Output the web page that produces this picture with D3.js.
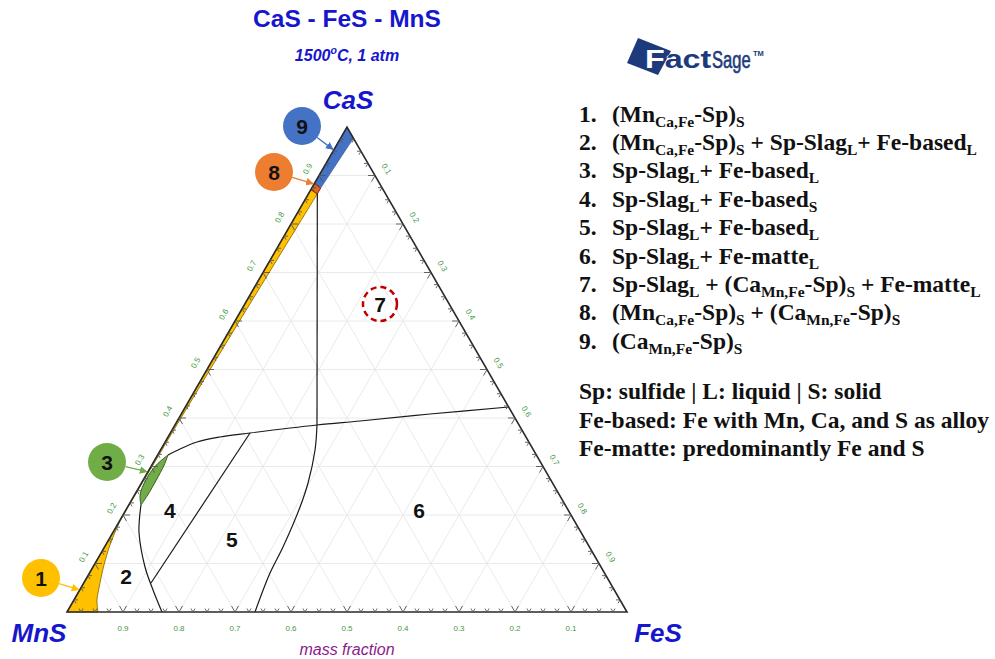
<!DOCTYPE html>
<html>
<head>
<meta charset="utf-8">
<script src="https://cdn.jsdelivr.net/npm/d3@7"></script>
<style>
  body { margin: 0; background: #fff; }
  svg { display: block; }
</style>
</head>
<body>
<svg id="chart" width="995" height="659"></svg>
<script>
// Compositions are given as [CaS, FeS] mass fractions; MnS = 1 - CaS - FeS.

const gridValues = [0.1, 0.2, 0.3, 0.4, 0.5, 0.6, 0.7, 0.8, 0.9];
const gridLabels = ["0.1", "0.2", "0.3", "0.4", "0.5", "0.6", "0.7", "0.8", "0.9"];
const tickStep = 0.025;

// Region 1: MnS-based solid, with its thin band along the MnS–CaS side
const mnsSolidInner = [
  [0.862, 0.016], [0.8, 0.014], [0.7, 0.011], [0.6, 0.008], [0.5, 0.0055],
  [0.4, 0.0035], [0.3, 0.002], [0.19, 0.001], [0.1691, 0.003], [0.1381, 0.0077],
  [0.0969, 0.0176], [0.0495, 0.0324], [0.0247, 0.0412], [0, 0.0554]
];
const mnsSolidEdge = [[0, 0], [0.871, 0]];

// Region 8: two solid sulfides
const twoSolidsArea = [[0.884, 0], [0.874, 0.016], [0.862, 0.016], [0.871, 0]];

// Region 9: CaS-based solid
const casSolidArea = [[1, 0], [0.977, 0.023], [0.874, 0.016], [0.884, 0]];

// Region 3: slag + Fe-based liquid (lens)
const lensOuter = [[0.2206, 0.0218], [0.241, 0.010], [0.272, 0.0045], [0.303, 0.008], [0.3237, 0.0185]];
const lensInner = [[0.3237, 0.0185], [0.303, 0.022], [0.272, 0.0235], [0.241, 0.0235], [0.2206, 0.0218]];

// Phase boundaries
const boundaryLeft = [[0, 0.1696], [0.0454, 0.1309], [0.0928, 0.0929], [0.1629, 0.0472], [0.1938, 0.0326], [0.2206, 0.0218]];
const boundaryTop = [[0.3237, 0.0185], [0.334, 0.0312], [0.3505, 0.0569], [0.3608, 0.0928], [0.3691, 0.1423],
                     [0.3856, 0.2536], [0.3938, 0.3263], [0.4082, 0.4441], [0.4227, 0.5773]];
const boundaryCaS = [[0.3856, 0.2536], [0.862, 0.016]];
const boundary45 = [[0.3691, 0.1423], [0.0598, 0.1201]];
const boundary56 = [[0.3856, 0.2536], [0.334, 0.2759], [0.266, 0.2974], [0.2165, 0.3079],
                    [0.134, 0.3187], [0.0804, 0.3223], [0, 0.3357]];

// Region numbers placed at compositions inside each field
const fieldNames = ["2", "4", "5", "6", "7"];
const fieldPoints = [[0.0742, 0.0683], [0.2103, 0.0787], [0.1505, 0.2193], [0.2103, 0.5234], [0.635, 0.2414]];

// Callout targets (on the MnS–CaS side, next to each narrow field)
const calloutNames = ["1", "3", "8", "9"];
const calloutTargets = [[0.0454, 0], [0.2887, 0], [0.8825, 0], [0.9526, 0]];

const legendNumbers = ["1.", "2.", "3.", "4.", "5.", "6.", "7.", "8.", "9."];
const legendEntries = [
  [["(Mn"], ["Ca,Fe", 1], ["-Sp)"], ["S", 1]],
  [["(Mn"], ["Ca,Fe", 1], ["-Sp)"], ["S", 1], [" + Sp-Slag"], ["L", 1], ["+ Fe-based"], ["L", 1]],
  [["Sp-Slag"], ["L", 1], ["+ Fe-based"], ["L", 1]],
  [["Sp-Slag"], ["L", 1], ["+ Fe-based"], ["S", 1]],
  [["Sp-Slag"], ["L", 1], ["+ Fe-based"], ["L", 1]],
  [["Sp-Slag"], ["L", 1], ["+ Fe-matte"], ["L", 1]],
  [["Sp-Slag"], ["L", 1], [" + (Ca"], ["Mn,Fe", 1], ["-Sp)"], ["S", 1], [" + Fe-matte"], ["L", 1]],
  [["(Mn"], ["Ca,Fe", 1], ["-Sp)"], ["S", 1], [" + (Ca"], ["Mn,Fe", 1], ["-Sp)"], ["S", 1]],
  [["(Ca"], ["Mn,Fe", 1], ["-Sp)"], ["S", 1]]
];
const legendNotes = [
  "Sp: sulfide | L: liquid | S: solid",
  "Fe-based: Fe with Mn, Ca, and S as alloy",
  "Fe-matte: predominantly Fe and S"
];

// ---------------------------------------------------------------------------
const svg = d3.select("#chart");
const BLUE = "#1616cc";
const SANS = "Liberation Sans, Arial, sans-serif";
const SERIF = "Liberation Serif, Times New Roman, serif";

// ternary projection built from two linear scales
const sideScale = d3.scaleLinear().domain([0, 1]).range([67, 627]);
const heightScale = d3.scaleLinear().domain([0, 1]).range([612, 127]);
const proj = ([c, f]) => [sideScale(f + c / 2), heightScale(c)];

const lineLin = d3.line().x(d => proj(d)[0]).y(d => proj(d)[1]);
const lineCurve = d3.line().x(d => proj(d)[0]).y(d => proj(d)[1]).curve(d3.curveCatmullRom.alpha(0.5));

// ---- grid ----
const grid = svg.append("g").attr("stroke", "#e8e8e8").attr("stroke-width", 0.9).attr("fill", "none");
gridValues.forEach(v => {
  grid.append("path").attr("d", lineLin([[v, 0], [v, 1 - v]]));
  grid.append("path").attr("d", lineLin([[0, v], [1 - v, v]]));
  grid.append("path").attr("d", lineLin([[0, 1 - v], [1 - v, 0]]));
});

// ---- coloured fields ----
svg.append("path")
  .attr("d", lineCurve(mnsSolidInner) + "L" + mnsSolidEdge.map(p => proj(p).join(",")).join("L") + "Z")
  .attr("fill", "#FFC000").attr("stroke", "#7a6200").attr("stroke-width", 0.8);
svg.append("path")
  .attr("d", lineLin(casSolidArea) + "Z")
  .attr("fill", "#4472C4").attr("stroke", "#2f528f").attr("stroke-width", 0.6);
svg.append("path")
  .attr("d", lineLin(twoSolidsArea) + "Z")
  .attr("fill", "#D2691E").attr("stroke", "#8b1a1a").attr("stroke-width", 1);
svg.append("path")
  .attr("d", lineCurve(lensOuter) + lineCurve(lensInner).replace(/^M/, "L") + "Z")
  .attr("fill", "#70AD47").attr("stroke", "#2e4d1c").attr("stroke-width", 0.9);

// ---- phase boundaries ----
const bnd = svg.append("g").attr("fill", "none").attr("stroke", "#1a1a1a").attr("stroke-width", 1.2);
bnd.append("path").attr("d", lineCurve(boundaryLeft));
bnd.append("path").attr("d", lineCurve(boundaryTop));
bnd.append("path").attr("d", lineLin(boundaryCaS));
bnd.append("path").attr("d", lineLin(boundary45));
bnd.append("path").attr("d", lineCurve(boundary56));

// ---- triangle frame ----
svg.append("path")
  .attr("d", lineLin([[0, 0], [0, 1], [1, 0]]) + "Z")
  .attr("fill", "none").attr("stroke", "#2a2a2a").attr("stroke-width", 1.6);

// ---- ticks ----
const ticks = svg.append("g").attr("stroke", "#555").attr("stroke-width", 0.9);
const nTicks = Math.round(1 / tickStep);
for (let k = 1; k < nTicks; k++) {
  const t = k * tickStep;
  const d = (k % 4 === 0 ? 7 : 4) / 560;
  const segs = [
    [[0, t], [d, t]], [[0, t], [d, t - d]],                 // bottom edge
    [[t, 0], [t, d]], [[t, 0], [t - d, d]],                 // MnS–CaS edge
    [[t, 1 - t], [t, 1 - t - d]], [[t, 1 - t], [t - d, 1 - t]] // CaS–FeS edge
  ];
  segs.forEach(s => ticks.append("path").attr("d", lineLin(s)));
}

// ---- tick labels ----
const lab = svg.append("g").attr("fill", "#3f9a3f").attr("font-family", SANS).attr("font-size", 8)
  .attr("text-anchor", "middle").attr("dominant-baseline", "central");
gridValues.forEach((v, i) => {
  // bottom: MnS fraction
  const pb = proj([0, 1 - v]);
  lab.append("text").attr("x", pb[0]).attr("y", pb[1] + 16).text(gridLabels[i]);
  // left: CaS fraction
  const pl = proj([v, 0]);
  const xl = pl[0] - 0.866 * 13, yl = pl[1] - 0.5 * 13;
  lab.append("text").attr("transform", `translate(${xl},${yl}) rotate(-60)`).text(gridLabels[i]);
  // right: FeS fraction
  const pr = proj([1 - v, v]);
  const xr = pr[0] + 0.866 * 13, yr = pr[1] - 0.5 * 13;
  lab.append("text").attr("transform", `translate(${xr},${yr}) rotate(60)`).text(gridLabels[i]);
});

// ---- corner labels ----
const corner = svg.append("g").attr("fill", BLUE).attr("font-family", SANS)
  .attr("font-weight", "bold").attr("font-style", "italic").attr("font-size", 26).attr("text-anchor", "middle");
corner.append("text").attr("x", 348).attr("y", 109).text("CaS");
corner.append("text").attr("x", 39).attr("y", 642).text("MnS");
corner.append("text").attr("x", 658).attr("y", 642).text("FeS");

svg.append("text").attr("x", 347).attr("y", 655).attr("text-anchor", "middle")
  .attr("font-family", SANS).attr("font-style", "italic").attr("font-size", 16)
  .attr("fill", "#8a1a8a").text("mass fraction");

// ---- titles ----
svg.append("text").attr("x", 347).attr("y", 27).attr("text-anchor", "middle")
  .attr("font-family", SANS).attr("font-weight", "bold").attr("font-size", 24.5)
  .attr("fill", BLUE).text("CaS - FeS - MnS");
const sub = svg.append("text").attr("x", 347).attr("y", 61).attr("text-anchor", "middle")
  .attr("font-family", SANS).attr("font-weight", "bold").attr("font-style", "italic").attr("font-size", 16)
  .attr("fill", BLUE);
sub.append("tspan").text("1500");
sub.append("tspan").attr("dy", -7).attr("font-size", 10.5).text("o");
sub.append("tspan").attr("dy", 7).text("C, 1 atm");

// ---- field numbers ----
const fl = svg.append("g").attr("font-family", SANS).attr("font-weight", "bold").attr("font-size", 21)
  .attr("text-anchor", "middle").attr("dominant-baseline", "central").attr("fill", "#111");
fieldNames.forEach((n, i) => {
  const p = proj(fieldPoints[i]);
  fl.append("text").attr("x", p[0]).attr("y", p[1]).text(n);
});
const p7 = proj(fieldPoints[4]);
svg.append("circle").attr("cx", p7[0]).attr("cy", p7[1]).attr("r", 17)
  .attr("fill", "none").attr("stroke", "#c00000").attr("stroke-width", 2.5).attr("stroke-dasharray", "6,4");

// ---- callouts ----
const calloutStyle = [
  { cx: 41, cy: 578, col: "#FFC000" },
  { cx: 107, cy: 462, col: "#70AD47" },
  { cx: 274, cy: 172, col: "#ED7D31" },
  { cx: 302, cy: 126, col: "#4472C4" }
];
const defs = svg.append("defs");
calloutStyle.forEach((s, i) => {
  defs.append("marker").attr("id", "ah" + i).attr("viewBox", "0 0 10 10").attr("refX", 9).attr("refY", 5)
    .attr("markerWidth", 6).attr("markerHeight", 6).attr("orient", "auto")
    .append("path").attr("d", "M0,0L10,5L0,10Z").attr("fill", s.col);
});
calloutNames.forEach((n, i) => {
  const s = calloutStyle[i];
  const t = proj(calloutTargets[i]);
  const ang = Math.atan2(t[1] - s.cy, t[0] - s.cx);
  svg.append("line")
    .attr("x1", s.cx + 19 * Math.cos(ang)).attr("y1", s.cy + 19 * Math.sin(ang))
    .attr("x2", t[0] - 1 * Math.cos(ang)).attr("y2", t[1] - 1 * Math.sin(ang))
    .attr("stroke", s.col).attr("stroke-width", 1.3).attr("marker-end", `url(#ah${i})`);
  svg.append("circle").attr("cx", s.cx).attr("cy", s.cy).attr("r", 19).attr("fill", s.col);
  svg.append("text").attr("x", s.cx).attr("y", s.cy).attr("text-anchor", "middle")
    .attr("dominant-baseline", "central").attr("font-family", SANS).attr("font-weight", "bold")
    .attr("font-size", 21).attr("fill", "#111").text(n);
});

// ---- legend ----
const leg = svg.append("g").attr("font-family", SERIF).attr("font-weight", "bold").attr("fill", "#111");
legendEntries.forEach((entry, i) => {
  const y = 121.5 + i * 28.4;
  leg.append("text").attr("x", 579).attr("y", y).attr("font-size", 23.5).text(legendNumbers[i]);
  const t = leg.append("text").attr("x", 612).attr("y", y).attr("font-size", 23.5);
  let shifted = false;
  entry.forEach(([txt, isSub]) => {
    const sp = t.append("tspan").text(txt);
    if (isSub && !shifted) { sp.attr("dy", 5).attr("font-size", 15.5); shifted = true; }
    else if (isSub) { sp.attr("font-size", 15.5); }
    else if (shifted) { sp.attr("dy", -5); shifted = false; }
  });
});
legendNotes.forEach((n, i) => {
  leg.append("text").attr("x", 579).attr("y", 399.3 + i * 28.5).attr("font-size", 23.5).text(n);
});

// ---- FactSage logo ----
const logo = svg.append("g");
const NAVY = "#1d3b7c";
const shape = [[638, 38], [671, 51], [658, 75], [627, 63]];
defs.append("clipPath").attr("id", "logoClip").append("polygon").attr("points", shape.map(p => p.join(",")).join(" "));
logo.append("polygon").attr("points", shape.map(p => p.join(",")).join(" ")).attr("fill", NAVY);
// "Fact" is widened, "Sage" condensed, by horizontal scaling
const factWord = logo.append("g").attr("transform", "translate(645,68) scale(1.29,1)");
factWord.append("text").attr("font-family", SANS).attr("font-weight", "bold")
  .attr("font-size", 25).attr("fill", NAVY).text("Fact");
logo.append("g").attr("clip-path", "url(#logoClip)")
  .append("g").attr("transform", "translate(645,68) scale(1.29,1)")
  .append("text").attr("font-family", SANS).attr("font-weight", "bold")
  .attr("font-size", 25).attr("fill", "#fff").text("Fact");
logo.append("g").attr("transform", "translate(712,68) scale(0.72,1)")
  .append("text").attr("font-family", SANS).attr("font-size", 23)
  .attr("fill", NAVY).attr("stroke", NAVY).attr("stroke-width", 0.6).text("Sage");
logo.append("text").attr("x", 753).attr("y", 56).attr("font-family", SANS).attr("font-weight", "bold")
  .attr("font-size", 7.5).attr("fill", NAVY).text("TM");
</script>
</body>
</html>
